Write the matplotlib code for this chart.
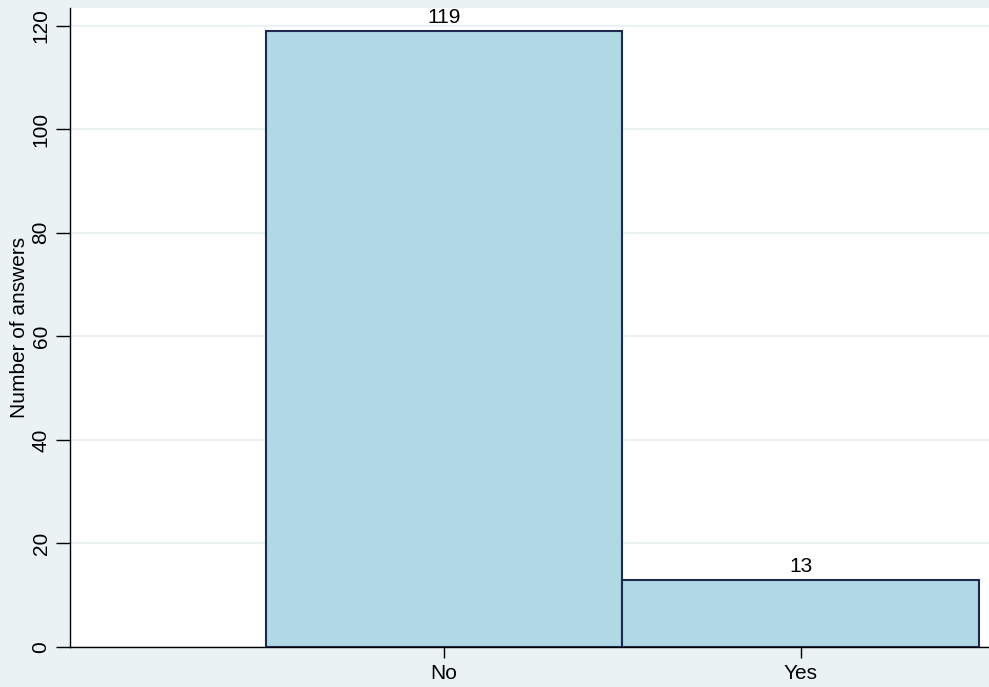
import numpy as np
import matplotlib.pyplot as plt

plt.rcParams['font.family'] = ['Liberation Sans', 'DejaVu Sans']

categories = ["No", "Yes"]
counts = [119, 13]

bg = "#EAF2F3"
fig = plt.figure(figsize=(9.89, 6.87), dpi=100, facecolor=bg)
ax = fig.add_axes([70/989, 1-647/687, 1-70/989, (647-8)/687])
ax.set_facecolor("white")

x = np.arange(len(categories))
ax.bar(x, counts, width=1.0, color="#B0D8E5", edgecolor="#1C2A4F", linewidth=1.5, zorder=3)
for xi, c in zip(x, counts):
    ax.annotate(str(c), (xi, c), xytext=(0, 3), textcoords="offset points",
                ha="center", va="bottom", fontsize=15)

ax.set_xlim(-1.048, 1.527)
ax.set_ylim(0, 123.4)
ax.set_yticks(np.arange(0, 121, 20))
ax.set_xticks(x)
ax.set_xticklabels(categories)
ax.grid(axis="y", color=bg, linewidth=1.5, zorder=0)
ax.tick_params(axis="y", labelrotation=90, labelsize=15, length=10, width=1, pad=4)
ax.tick_params(axis="x", labelsize=15, length=8, width=1, pad=4)
for lbl in ax.get_yticklabels():
    lbl.set_va("center")
ax.set_ylabel("Number of answers", fontsize=15, labelpad=2)
ax.spines["top"].set_visible(False)
ax.spines["right"].set_visible(False)
ax.spines["left"].set_linewidth(1)
ax.spines["bottom"].set_linewidth(1)

fig.savefig("out.png", dpi=100, facecolor=bg)
